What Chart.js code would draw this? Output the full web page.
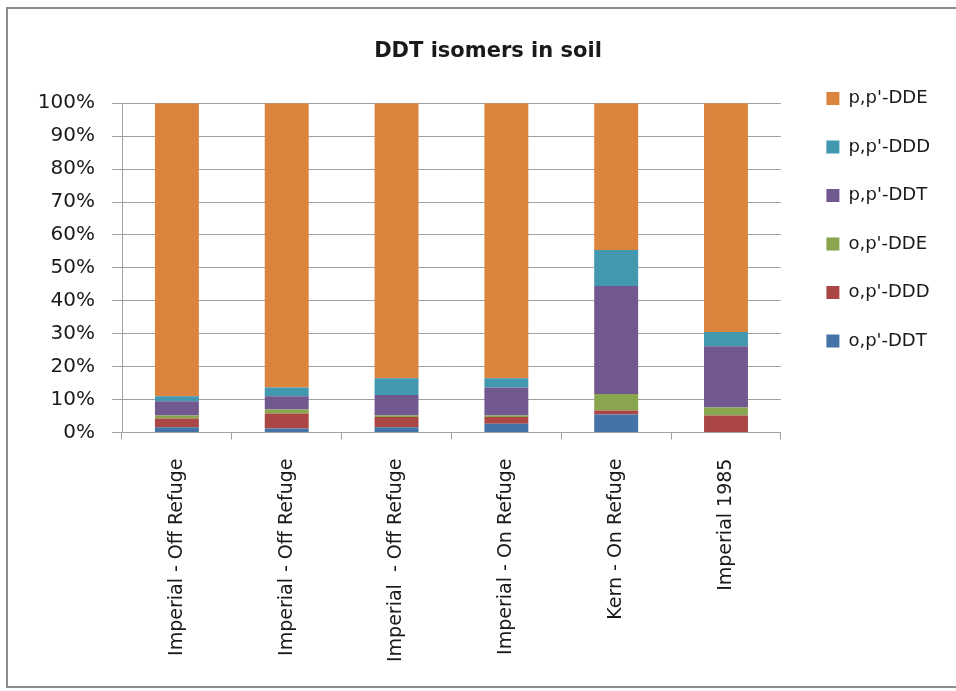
<!DOCTYPE html>
<html>
<head>
<meta charset="utf-8">
<script src="https://cdn.jsdelivr.net/npm/chart.js@4"></script>
<style>
  html, body { margin: 0; padding: 0; background: #fff; }
  #frame {
    position: absolute; left: 6px; top: 7px; width: 960px; height: 681px;
    border-left: 2px solid #8c8c8c; border-top: 2px solid #8c8c8c; border-bottom: 2px solid #8c8c8c;
    box-sizing: border-box;
  }
  #wrap { position: absolute; left: 0; top: 0; width: 956px; height: 691px; }
</style>
</head>
<body>
<div id="frame"></div>
<div id="wrap"><canvas id="chart"></canvas></div>
<script>
// categories (bottom axis)
const sites = [
    'Imperial - Off Refuge',
    'Imperial - Off Refuge',
    'Imperial  - Off Refuge',
    'Imperial - On Refuge',
    'Kern - On Refuge',
    'Imperial 1985'
];

// percent of total DDT
const opDDT = [1.6, 1.2, 1.6, 2.7, 5.5, 0];
const opDDD = [2.7, 4.6, 3.1, 2.0, 1.2, 5.2];
const opDDE = [0.9, 1.2, 0.5, 0.5, 5.0, 2.4];
const ppDDT = [4.3, 4.0, 6.2, 8.5, 32.8, 18.6];
const ppDDD = [1.5, 2.7, 5.1, 2.8, 10.9, 4.3];
const ppDDE = [89.0, 86.3, 83.5, 83.5, 44.6, 69.5];

const yTicks = [0, 10, 20, 30, 40, 50, 60, 70, 80, 90, 100];

const fontFamily = '"DejaVu Sans", "Liberation Sans", sans-serif';
const textColor = '#1a1a1a';
const gridColor = '#a0a0a0';

function series(label, data, color) {
    return {
        label: label,
        data: data,
        backgroundColor: color,
        borderWidth: 0,
        barPercentage: 0.4,
        categoryPercentage: 1
    };
}

new Chart(document.getElementById('chart'), {
    type: 'bar',
    data: {
        labels: sites,
        datasets: [
            series("o,p'-DDT", opDDT, '#4572A7'),
            series("o,p'-DDD", opDDD, '#AA4643'),
            series("o,p'-DDE", opDDE, '#89A54E'),
            series("p,p'-DDT", ppDDT, '#71588F'),
            series("p,p'-DDD", ppDDD, '#4198AF'),
            series("p,p'-DDE", ppDDE, '#DB843D')
        ]
    },
    options: {
        responsive: true,
        maintainAspectRatio: false,
        animation: false,
        layout: { padding: { top: 8, left: 36, right: 16, bottom: 10 } },
        plugins: {
            title: {
                display: true,
                text: 'DDT isomers in soil',
                color: textColor,
                font: { family: fontFamily, size: 21, weight: 'bold' },
                padding: { top: 31, bottom: 39 }
            },
            legend: {
                position: 'right',
                align: 'start',
                reverse: true,
                // empty title just pushes the items down
                title: { display: true, text: ' ', font: { size: 10 }, padding: { top: 39, bottom: 0 } },
                labels: {
                    color: textColor,
                    font: { family: fontFamily, size: 18 },
                    boxWidth: 13,
                    boxHeight: 13,
                    padding: 30.5
                }
            },
            tooltip: { enabled: false }
        },
        scales: {
            x: {
                stacked: true,
                grid: {
                    offset: true,
                    drawOnChartArea: false,
                    drawTicks: true,
                    tickLength: 7,
                    color: gridColor
                },
                border: { color: gridColor },
                ticks: {
                    color: textColor,
                    font: { family: fontFamily, size: 19 },
                    minRotation: 90,
                    maxRotation: 90,
                    padding: 19
                }
            },
            y: {
                stacked: true,
                min: 0,
                max: 100,
                afterBuildTicks: axis => { axis.ticks = yTicks.map(v => ({ value: v })); },
                afterFit: s => { s.width = 86; },
                grid: { color: gridColor, tickLength: 10 },
                border: { color: gridColor },
                ticks: {
                    color: textColor,
                    font: { family: fontFamily, size: 20 },
                    padding: 17,
                    callback: v => v + '%'
                }
            },
            // blank spacer between plot and legend
            gap: {
                position: 'right',
                display: true,
                grid: { display: false },
                border: { display: false },
                ticks: { display: false },
                afterFit: s => { s.width = 15; }
            }
        }
    }
});
</script>
</body>
</html>
